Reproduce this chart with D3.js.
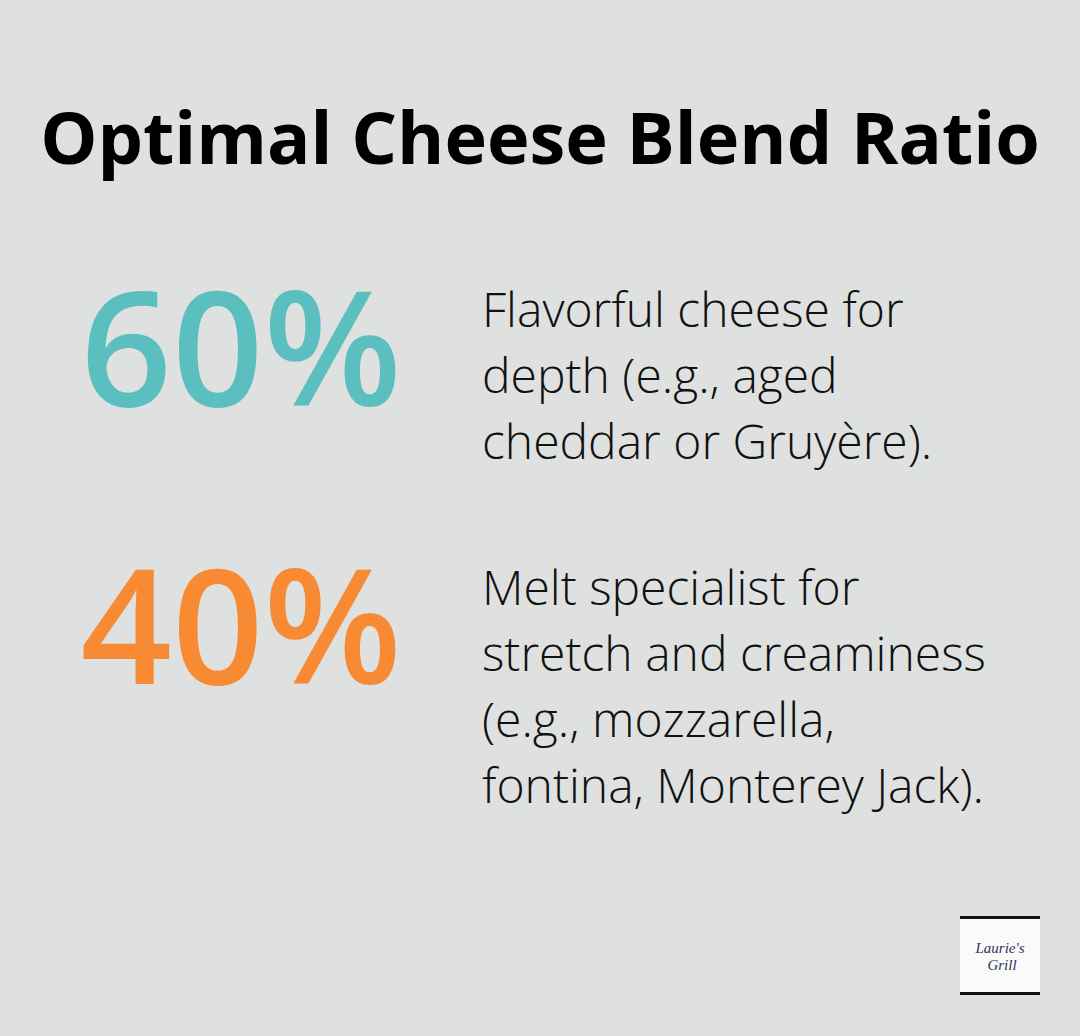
<!DOCTYPE html>
<html><head><meta charset="utf-8">
<script src="https://cdn.jsdelivr.net/npm/d3@7"></script>
<style>body{margin:0;background:#dfe1e0}</style></head>
<body><svg id="c" width="1080" height="1036"></svg>
<script>
const title = "Optimal Cheese Blend Ratio";
const values = [60, 40];
const colors = ["#5bbfc0", "#f78a33"];
const descriptions = [
  ["Flavorful cheese for", "depth (e.g., aged", "cheddar or Gruyère)."],
  ["Melt specialist for", "stretch and creaminess", "(e.g., mozzarella,", "fontina, Monterey Jack)."]
];
const svg = d3.select("#c");
svg.append("rect").attr("width",1080).attr("height",1036).attr("fill","#dfe1e0");
svg.append("text").attr("x",540).attr("y",164).attr("text-anchor","middle")
  .attr("font-family","Open Sans").attr("font-weight",700).attr("font-size",72)
  .attr("fill","#000").text(title);
const y = d3.scaleOrdinal().domain([0,1]).range([406,684]);
const g = svg.selectAll("g.item").data(values).join("g");
g.append("text").attr("x",241).attr("y",(d,i)=>y(i)).attr("text-anchor","middle")
  .attr("font-family","Open Sans").attr("font-weight",600).attr("font-size",160)
  .attr("fill",(d,i)=>colors[i]).text(d=>d+"%");
g.each(function(d,i){
  d3.select(this).selectAll("text.d").data(descriptions[i]).join("text").attr("class","d")
    .attr("x",482).attr("y",(t,j)=>y(i)-79+j*66)
    .attr("font-family","Open Sans").attr("font-weight",300).attr("font-size",48)
    .attr("fill","#111").text(t=>t);
});
const lg = svg.append("g");
lg.append("rect").attr("x",960).attr("y",916).attr("width",80).attr("height",79).attr("fill","#fafafa");
lg.append("rect").attr("x",960).attr("y",916).attr("width",80).attr("height",3).attr("fill","#111");
lg.append("rect").attr("x",960).attr("y",992).attr("width",80).attr("height",3).attr("fill","#111");
lg.append("text").attr("x",1000).attr("y",953).attr("text-anchor","middle").attr("font-family","Liberation Serif")
  .attr("font-style","italic").attr("font-size",15).attr("fill","#2a3560").text("Laurie's");
lg.append("text").attr("x",1002).attr("y",970).attr("text-anchor","middle").attr("font-family","Liberation Serif")
  .attr("font-style","italic").attr("font-size",15).attr("fill","#2a3560").text("Grill");
</script></body></html>
